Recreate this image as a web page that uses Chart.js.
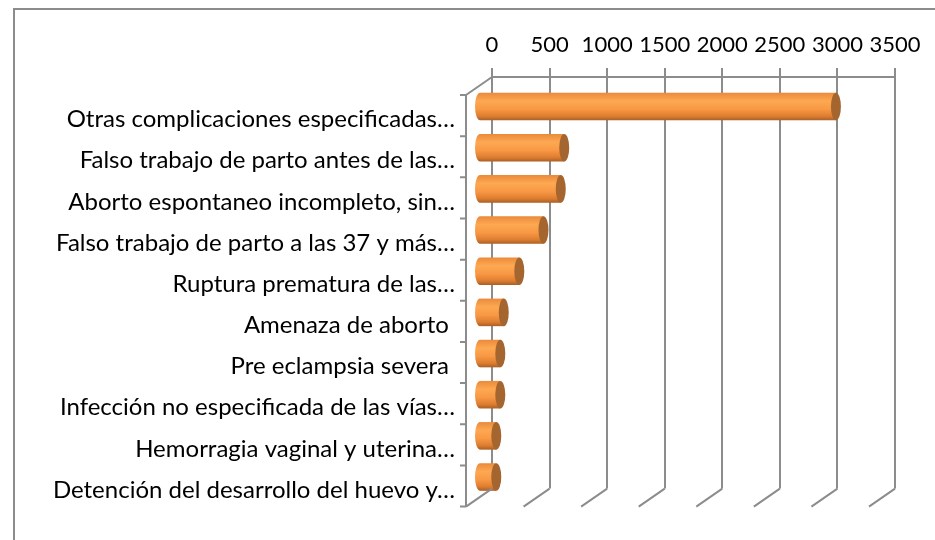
<!DOCTYPE html>
<html>
<head>
<meta charset="utf-8">
<script src="https://cdn.jsdelivr.net/npm/chart.js@4.4.1/dist/chart.umd.min.js"></script>
<style>
html, body { margin: 0; padding: 0; background: #fff; }
</style>
</head>
<body>
<canvas id="myChart" width="935" height="540"></canvas>
<script>
var categories = [
    'Otras complicaciones especificadas…',
    'Falso trabajo de parto antes de las…',
    'Aborto espontaneo incompleto, sin…',
    'Falso trabajo de parto a las 37 y más…',
    'Ruptura prematura de las…',
    'Amenaza de aborto ',
    'Pre eclampsia severa ',
    'Infección no especificada de las vías…',
    'Hemorragia vaginal y uterina…',
    'Detención del desarrollo del huevo y…'
];
var casos = [3100, 740, 710, 560, 350, 215, 185, 185, 150, 150];
var axisMax = 3500;
var axisStep = 500;

var gridColor = '#8c8c8c';
var depth = { dx: -26, dy: 18 };     // back wall -> front edge
var barShift = { dx: -13, dy: 9 };   // bars sit halfway into the depth
var barHalf = 14;

function bodyGradient(ctx, y, half) {
    var g = ctx.createLinearGradient(0, y - half, 0, y + half);
    g.addColorStop(0, '#ea893a');
    g.addColorStop(0.3, '#fda852');
    g.addColorStop(0.6, '#f89844');
    g.addColorStop(0.85, '#dc7c30');
    g.addColorStop(1, '#a65d25');
    return g;
}

// outer frame of the chart box
var framePlugin = {
    id: 'frame',
    beforeDraw: function(chart) {
        var ctx = chart.ctx;
        ctx.save();
        ctx.strokeStyle = gridColor;
        ctx.lineWidth = 2;
        ctx.beginPath();
        ctx.moveTo(14, 540);
        ctx.lineTo(14, 9);
        ctx.lineTo(935, 9);
        ctx.stroke();
        ctx.restore();
    },
    afterDraw: function(chart) {
        var a = chart.chartArea, ctx = chart.ctx;
        var xs = chart.scales.x, ys = chart.scales.y;
        ctx.save();
        ctx.strokeStyle = gridColor;
        ctx.lineWidth = 2;
        ctx.beginPath();
        // floor: a slanted foot under every gridline
        xs.ticks.forEach(function(t) {
            var px = xs.getPixelForValue(t.value);
            ctx.moveTo(px, a.bottom);
            ctx.lineTo(px + depth.dx, a.bottom + depth.dy);
        });
        // side wall edge and front category axis
        ctx.moveTo(a.left, a.top);
        ctx.lineTo(a.left + depth.dx, a.top + depth.dy);
        ctx.moveTo(a.left + depth.dx, a.top + depth.dy);
        ctx.lineTo(a.left + depth.dx, a.bottom + depth.dy);
        for (var k = 0; k <= categories.length; k++) {
            var ty = ys.getPixelForValue(k - 0.5) + depth.dy;
            ctx.moveTo(a.left + depth.dx - 6, ty);
            ctx.lineTo(a.left + depth.dx, ty);
        }
        ctx.stroke();
        ctx.restore();
    }
};

// turns the flat bars into cylinders
var cylinderPlugin = {
    id: 'cylinders',
    beforeDatasetsDraw: function(chart) {
        chart.ctx.save();
        chart.ctx.translate(barShift.dx, barShift.dy);
    },
    afterDatasetsDraw: function(chart) {
        var ctx = chart.ctx;
        chart.getDatasetMeta(0).data.forEach(function(bar) {
            var ry = bar.height / 2, rx = 5;
            ctx.beginPath();
            ctx.ellipse(bar.base, bar.y, rx, ry, 0, Math.PI / 2, Math.PI * 1.5);
            ctx.closePath();
            ctx.fillStyle = bodyGradient(ctx, bar.y, ry);
            ctx.fill();
            ctx.beginPath();
            ctx.ellipse(bar.x, bar.y, rx, ry, 0, 0, Math.PI * 2);
            ctx.fillStyle = '#a5652f';
            ctx.fill();
        });
        ctx.restore();
    }
};

var ctx = document.getElementById('myChart');
var myChart = new Chart(ctx, {
    type: 'bar',
    data: {
        labels: categories,
        datasets: [{
            label: 'Casos',
            data: casos,
            clip: false,
            borderWidth: 0,
            categoryPercentage: 1.0,
            barPercentage: 0.67,
            backgroundColor: function(c) {
                if (c.type !== 'data' || !c.chart.chartArea) {
                    return '#f79646';
                }
                var y = c.chart.scales.y.getPixelForValue(c.dataIndex);
                return bodyGradient(c.chart.ctx, y, barHalf);
            }
        }]
    },
    options: {
        indexAxis: 'y',
        responsive: false,
        animation: false,
        layout: {
            padding: { left: 0, top: 0, right: 40, bottom: 42 }
        },
        plugins: {
            legend: { display: false },
            tooltip: { enabled: false }
        },
        scales: {
            x: {
                position: 'top',
                min: 0,
                max: axisMax,
                afterFit: function(s) { s.height = 77; },
                grid: {
                    color: gridColor,
                    lineWidth: 2,
                    drawTicks: true,
                    tickLength: 9
                },
                border: { display: true, color: gridColor, width: 2 },
                ticks: {
                    stepSize: axisStep,
                    autoSkip: false,
                    maxRotation: 0,
                    padding: 10,
                    color: '#000',
                    font: { family: 'Lato', size: 22 },
                    callback: function(v) { return String(v); }
                }
            },
            y: {
                afterFit: function(s) { s.width = 492; },
                grid: { display: false, drawTicks: false },
                border: { display: false },
                ticks: {
                    autoSkip: false,
                    padding: 37,
                    labelOffset: 22,
                    color: '#000',
                    font: { family: 'Lato', size: 24 }
                }
            }
        }
    },
    plugins: [framePlugin, cylinderPlugin]
});
</script>
</body>
</html>
